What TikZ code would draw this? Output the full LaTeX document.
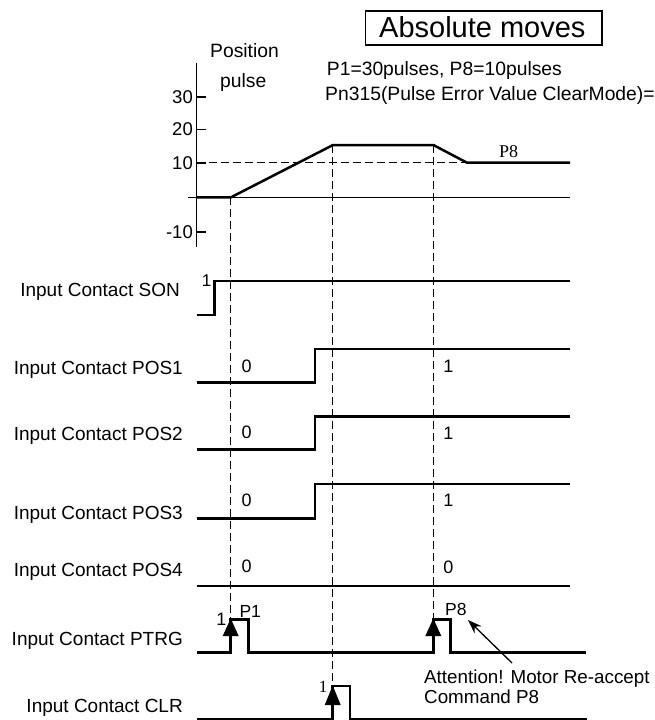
\documentclass[tikz,border=0pt]{standalone}
\usepackage{fontspec}
\setmainfont{Liberation Sans}
\newfontfamily\serifx{Liberation Serif}
\usetikzlibrary{arrows.meta}
\begin{document}
\begin{tikzpicture}[x=1pt,y=-1pt,
  sig/.style={line width=2.5pt, line join=miter},
  guide/.style={line width=1.2pt, dash pattern=on 8pt off 4pt},
  axisline/.style={line width=1.6pt},
  thin/.style={line width=1.3pt},
  lbl/.style={inner sep=0pt, anchor=base east, font=\fontsize{19}{22}\selectfont},
  txt/.style={inner sep=0pt, anchor=base west, font=\fontsize{19.3}{22}\selectfont},
  num/.style={inner sep=0pt, anchor=base, font=\fontsize{18}{20}\selectfont},
  tipfill/.style={fill=black}
]
\clip (0,0) rectangle (655,720);
\fill[white] (0,0) rectangle (655,720);

% title
\draw[thin] (365.7,11) rectangle (602,45);
\node[txt, font=\fontsize{29}{34}\selectfont] (title) at (379,37) {Absolute moves};
\node[txt] (pos) at (210,57) {Position};
\node[txt] (pul) at (220,87) {pulse};
\node[txt] (p1p8) at (326.7,75) {P1=30pulses, P8=10pulses};
\node[txt] (pn) at (325,100) {Pn315(Pulse Error Value ClearMode)=2};

% axis
\draw[axisline] (196.5,63) -- (196.5,247);
\foreach \yy/\t in {97/30,129.3/20,162.7/10,231.7/-10}{
  \draw[axisline] (196.5,\yy) -- (206,\yy);
  \node[lbl, font=\fontsize{18.5}{20}\selectfont] at (193,\yy+6.5) {\t};
}
\draw[thin] (188,197.3) -- (570,197.3);
\draw[guide] (196.5,162.7) -- (467,162.7);
\draw[sig] (196.5,197.3) -- (231,197.3) -- (333,145) -- (433.3,145) -- (467,162.7) -- (570,162.7);
\node[inner sep=0pt, anchor=base, font=\serifx\fontsize{18}{20}\selectfont] (p8t) at (508.5,157) {P8};

% guides
\draw[guide] (230.7,197.3) -- (230.7,625);
\draw[guide] (332.5,145) -- (332.5,692);
\draw[guide] (433.3,145) -- (433.3,625);

% labels
\node[lbl] (lson) at (180,296.7) {Input Contact SON};
\node[lbl] (lp1) at (183,374) {Input Contact POS1};
\node[lbl] (lp2) at (183,440) {Input Contact POS2};
\node[lbl] (lp3) at (183,519) {Input Contact POS3};
\node[lbl] (lp4) at (183,576) {Input Contact POS4};
\node[lbl] (lptrg) at (183,645) {Input Contact PTRG};
\node[lbl] (lclr) at (183,712.7) {Input Contact CLR};

% signals
\draw[sig] (196.7,315) -- (214.3,315) -- (214.3,281) -- (570,281);
\draw[sig] (196.7,382.7) -- (315,382.7) -- (315,349) -- (570,349);
\draw[sig] (196.7,449.3) -- (315,449.3) -- (315,416.7) -- (570,416.7);
\draw[sig] (196.7,518.3) -- (315,518.3) -- (315,484) -- (570,484);
\draw[sig] (196.7,586) -- (570,586);
\draw[sig] (196.7,652.7) -- (230.7,652.7) -- (230.7,619.3) -- (248.3,619.3) -- (248.3,652.7)
  -- (433.3,652.7) -- (433.3,619.3) -- (450.7,619.3) -- (450.7,652.7) -- (586,652.7);
\draw[sig] (196.7,719) -- (332.7,719) -- (332.7,686) -- (350,686) -- (350,719) -- (587,719);

% arrow heads on trigger edges
\fill[tipfill] (230.7,618.5) -- (222.7,636) -- (238.7,636) -- cycle;
\fill[tipfill] (433.3,618.5) -- (425.3,636) -- (441.3,636) -- cycle;
\fill[tipfill] (332.7,685.5) -- (324.7,705) -- (340.7,705) -- cycle;

% values
\node[num, font=\fontsize{17}{20}\selectfont] at (206.7,286) {1};
\node[num] at (246.7,372.7) {0};
\node[num] at (246.7,438.3) {0};
\node[num] at (246.7,506.7) {0};
\node[num] at (246.7,572.7) {0};
\node[num] at (448.3,372) {1};
\node[num] at (448.3,439) {1};
\node[num] at (448.3,506.7) {1};
\node[num] at (448.3,573) {0};
\node[num] at (221.5,625) {1};
\node[inner sep=0pt, anchor=base west, font=\fontsize{17.5}{20}\selectfont] (p1l) at (239.3,617) {P1};
\node[inner sep=0pt, anchor=base west, font=\fontsize{17.5}{20}\selectfont] (p8l) at (445,615) {P8};
\node[inner sep=0pt, anchor=base, font=\serifx\fontsize{17}{20}\selectfont] at (323,692) {1};

% attention note
\node[txt, font=\fontsize{18.8}{22}\selectfont] (att) at (424,683) {Attention! Motor Re-accept};
\node[txt, font=\fontsize{18.8}{22}\selectfont] (cmd) at (424,703) {Command P8};
\coordinate (atail) at (512,663);
\coordinate (ahead) at (468,620);
\draw[thin, -{Stealth[length=14pt,width=10pt]}] (atail) -- (ahead);
\end{tikzpicture}
\end{document}
